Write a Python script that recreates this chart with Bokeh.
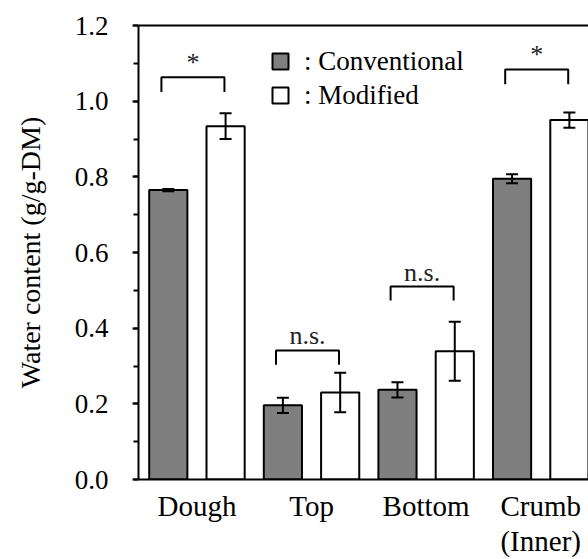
from bokeh.plotting import figure
from bokeh.models import (ColumnDataSource, Whisker, TeeHead, LinearAxis, FixedTicker,
                          SingleIntervalTicker, NumeralTickFormatter, Range1d, Legend, LegendItem)
from bokeh.core.properties import value
from bokeh.embed import file_html
from bokeh.resources import INLINE

# ---- data ----
categories = ["Dough", "Top", "Bottom", "Crumb\n(Inner)"]
conventional = [0.765, 0.196, 0.237, 0.795]
conventional_err = [0.003, 0.020, 0.020, 0.012]
modified = [0.934, 0.230, 0.339, 0.950]
modified_err = [0.034, 0.052, 0.078, 0.020]
sig_labels = ["*", "n.s.", "n.s.", "*"]
bracket_top = [1.063, 0.341, 0.510, 1.084]
bracket_leg = [0.039, 0.038, 0.037, 0.039]

FONT = "Liberation Serif"
OFF = 0.25
BW = 0.333

groups = list(range(len(categories)))

p = figure(width=588, height=559, output_backend="svg", toolbar_location=None,
           x_range=Range1d(-0.51, 3.417), y_range=Range1d(0, 1.2000001),
           min_border_left=138, min_border_right=0, min_border_top=25, min_border_bottom=79)
p.outline_line_color = None
p.xgrid.visible = False
p.ygrid.visible = False
p.background_fill_color = "white"

src_c = ColumnDataSource(dict(x=[g - OFF for g in groups], top=conventional,
                              upper=[v + e for v, e in zip(conventional, conventional_err)],
                              lower=[v - e for v, e in zip(conventional, conventional_err)]))
src_m = ColumnDataSource(dict(x=[g + OFF for g in groups], top=modified,
                              upper=[v + e for v, e in zip(modified, modified_err)],
                              lower=[v - e for v, e in zip(modified, modified_err)]))

rc = p.vbar(x="x", top="top", width=BW, source=src_c, fill_color="#7f7f7f",
            line_color="black", line_width=2)
rm = p.vbar(x="x", top="top", width=BW, source=src_m, fill_color="white",
            line_color="black", line_width=2)

for src in (src_c, src_m):
    w = Whisker(base="x", upper="upper", lower="lower", source=src, line_width=2,
                line_color="black", level="overlay",
                upper_head=TeeHead(size=12, line_width=2, line_color="black"),
                lower_head=TeeHead(size=12, line_width=2, line_color="black"))
    p.add_layout(w)

# significance brackets
bl, br = -0.31, 0.24
xs = [[g + bl, g + bl, g + br, g + br] for g in groups]
ys = [[t - l, t, t, t - l] for t, l in zip(bracket_top, bracket_leg)]
p.multi_line(xs=xs, ys=ys, line_color="black", line_width=2)
p.text(x=[g + (bl + br) / 2 for g in groups], y=bracket_top, text=sig_labels,
       text_font=value(FONT), text_font_size="26px", text_align="center",
       text_baseline="bottom", text_color="#222222")

# axes styling
xa = p.xaxis[0]
xa.ticker = FixedTicker(ticks=groups)
xa.major_label_overrides = {g: c for g, c in zip(groups, categories)}
xa.major_tick_out = 0
xa.major_tick_in = 0
xa.minor_tick_out = 0
xa.axis_line_width = 2
xa.axis_line_color = "black"
xa.major_label_text_font = FONT
xa.major_label_text_font_size = "29px"
xa.major_label_text_color = "black"
xa.major_label_text_line_height = 1.1
xa.major_label_standoff = 10

ya = p.yaxis[0]
ya.ticker = SingleIntervalTicker(interval=0.2, num_minor_ticks=2)
ya.formatter = NumeralTickFormatter(format="0.0")
ya.major_tick_out = 6
ya.major_tick_in = 0
ya.minor_tick_out = 5
ya.minor_tick_in = 0
ya.major_tick_line_width = 2
ya.minor_tick_line_width = 2
ya.axis_line_width = 2
ya.axis_line_color = "black"
ya.major_label_text_font = FONT
ya.major_label_text_font_size = "27px"
ya.major_label_text_color = "black"
ya.major_label_standoff = 24
ya.axis_label = "Water content (g/g-DM)"
ya.axis_label_text_font = FONT
ya.axis_label_text_font_size = "28px"
ya.axis_label_text_font_style = "normal"
ya.axis_label_text_color = "black"
ya.axis_label_standoff = 26

top_axis = LinearAxis(ticker=FixedTicker(ticks=[]), major_label_text_font_size="0px",
                      axis_line_width=2, axis_line_color="black",
                      major_tick_out=0, minor_tick_out=0)
p.add_layout(top_axis, "above")

legend = Legend(items=[LegendItem(label=": Conventional", renderers=[rc]),
                       LegendItem(label=": Modified", renderers=[rm])],
                location=(132, 367), orientation="vertical",
                glyph_width=20, glyph_height=20, label_height=34, label_standoff=14,
                spacing=0, padding=0, margin=0,
                label_text_font=FONT, label_text_font_size="27px", label_text_color="black",
                border_line_alpha=0, background_fill_alpha=0)
p.add_layout(legend, "center")

open("out.html", "w").write(file_html(p, INLINE))
